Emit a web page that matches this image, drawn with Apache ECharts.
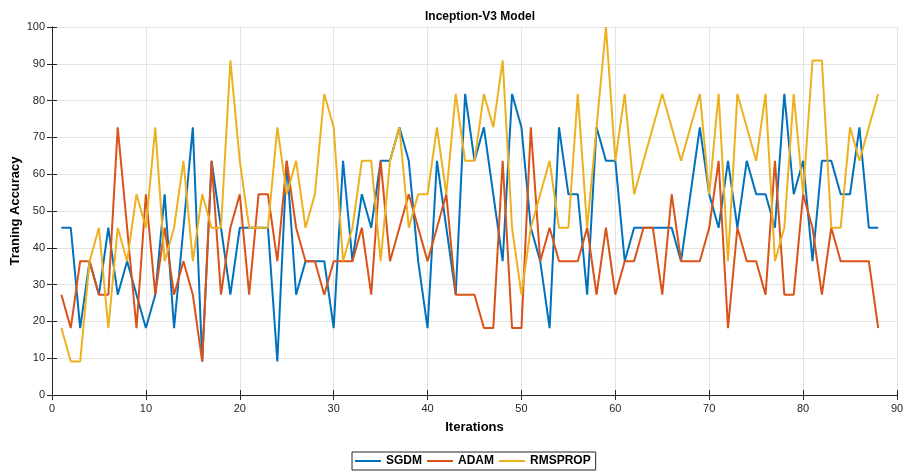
<!DOCTYPE html>
<html>
<head>
<meta charset="utf-8">
<script src="https://cdn.jsdelivr.net/npm/echarts@6/dist/echarts.min.js"></script>
<style>
  html, body { margin: 0; padding: 0; background: #ffffff; }
  #chart { width: 905px; height: 472px; }
</style>
</head>
<body>
<div id="chart"></div>
<script>
// Training accuracy (%) per iteration for the three optimizers
const iterations = [];
for (let i = 1; i <= 88; i++) iterations.push(i);

const sgdm = [
  45.45, 45.45, 18.18, 36.36, 27.27, 45.45, 27.27, 36.36, 27.27, 18.18,
  27.27, 54.55, 18.18, 45.45, 72.73, 9.09, 63.64, 45.45, 27.27, 45.45,
  45.45, 45.45, 45.45, 9.09, 63.64, 27.27, 36.36, 36.36, 36.36, 18.18,
  63.64, 36.36, 54.55, 45.45, 63.64, 63.64, 72.73, 63.64, 36.36, 18.18,
  63.64, 45.45, 27.27, 81.82, 63.64, 72.73, 54.55, 36.36, 81.82, 72.73,
  45.45, 36.36, 18.18, 72.73, 54.55, 54.55, 27.27, 72.73, 63.64, 63.64,
  36.36, 45.45, 45.45, 45.45, 45.45, 45.45, 36.36, 54.55, 72.73, 54.55,
  45.45, 63.64, 45.45, 63.64, 54.55, 54.55, 45.45, 81.82, 54.55, 63.64,
  36.36, 63.64, 63.64, 54.55, 54.55, 72.73, 45.45, 45.45
];
const adam = [
  27.27, 18.18, 36.36, 36.36, 27.27, 27.27, 72.73, 45.45, 18.18, 54.55,
  27.27, 45.45, 27.27, 36.36, 27.27, 9.09, 63.64, 27.27, 45.45, 54.55,
  27.27, 54.55, 54.55, 36.36, 63.64, 45.45, 36.36, 36.36, 27.27, 36.36,
  36.36, 36.36, 45.45, 27.27, 63.64, 36.36, 45.45, 54.55, 45.45, 36.36,
  45.45, 54.55, 27.27, 27.27, 27.27, 18.18, 18.18, 63.64, 18.18, 18.18,
  72.73, 36.36, 45.45, 36.36, 36.36, 36.36, 45.45, 27.27, 45.45, 27.27,
  36.36, 36.36, 45.45, 45.45, 27.27, 54.55, 36.36, 36.36, 36.36, 45.45,
  63.64, 18.18, 45.45, 36.36, 36.36, 27.27, 63.64, 27.27, 27.27, 54.55,
  45.45, 27.27, 45.45, 36.36, 36.36, 36.36, 36.36, 18.18
];
const rmsprop = [
  18.18, 9.09, 9.09, 36.36, 45.45, 18.18, 45.45, 36.36, 54.55, 45.45,
  72.73, 36.36, 45.45, 63.64, 36.36, 54.55, 45.45, 45.45, 90.91, 63.64,
  45.45, 45.45, 45.45, 72.73, 54.55, 63.64, 45.45, 54.55, 81.82, 72.73,
  36.36, 45.45, 63.64, 63.64, 36.36, 63.64, 72.73, 45.45, 54.55, 54.55,
  72.73, 54.55, 81.82, 63.64, 63.64, 81.82, 72.73, 90.91, 45.45, 27.27,
  45.45, 54.55, 63.64, 45.45, 45.45, 81.82, 45.45, 72.73, 100.00, 63.64,
  81.82, 54.55, 63.64, 72.73, 81.82, 72.73, 63.64, 72.73, 81.82, 54.55,
  81.82, 36.36, 81.82, 72.73, 63.64, 81.82, 36.36, 45.45, 81.82, 54.55,
  90.91, 90.91, 45.45, 45.45, 72.73, 63.64, 72.73, 81.82
];

const seriesNames = ['SGDM', 'ADAM', 'RMSPROP'];
const seriesColors = ['#0072BD', '#D95319', '#EDB120'];
const xTicks = [0, 10, 20, 30, 40, 50, 60, 70, 80, 90];
const yTicks = [0, 10, 20, 30, 40, 50, 60, 70, 80, 90, 100];

const FONT = 'Liberation Sans, Arial, Helvetica, sans-serif';
const AXIS_COLOR = '#262626';

const pairs = arr => iterations.map((it, i) => [it, arr[i]]);

const chart = echarts.init(document.getElementById('chart'), null, { renderer: 'canvas' });

const baseAxis = {
  axisLine: { show: true, lineStyle: { color: AXIS_COLOR, width: 1 } },
  axisTick: { show: true, inside: true, length: 5, lineStyle: { color: AXIS_COLOR } },
  axisLabel: { color: '#262626', fontFamily: FONT, fontSize: 11 },
  splitLine: { show: true, lineStyle: { color: '#e3e3e3', width: 1 } }
};

chart.setOption({
  animation: false,
  backgroundColor: '#ffffff',
  title: {
    text: 'Inception-V3 Model',
    left: 475, top: 6, textAlign: 'center',
    textStyle: { fontFamily: FONT, fontSize: 12, fontWeight: 'bold', color: '#000' }
  },
  grid: { left: 52, right: 8, top: 27, bottom: 77, containLabel: false, outerBoundsMode: 'none' },
  legend: {
    data: seriesNames,
    top: 452, left: 352,
    orient: 'horizontal',
    icon: 'rect',
    itemWidth: 26, itemHeight: 2,
    itemGap: 5,
    padding: [3, 5, 3, 3],
    borderColor: '#262626', borderWidth: 1,
    backgroundColor: '#fff',
    textStyle: { fontFamily: FONT, fontSize: 12, fontWeight: 'bold', color: '#000' }
  },
  xAxis: [
    Object.assign({}, baseAxis, {
      type: 'value', min: 0, max: 90, interval: 10,
      name: 'Iterations', nameLocation: 'middle', nameGap: 26,
      nameMoveOverlap: false,
      nameTextStyle: { fontFamily: FONT, fontSize: 13, fontWeight: 'bold', color: '#000' },
      axisLabel: Object.assign({}, baseAxis.axisLabel, { margin: 8,
        formatter: v => xTicks.includes(v) ? String(v) : '' })
    }),
    {
      type: 'value', min: 0, max: 90, interval: 10, position: 'top',
      axisLine: { show: true, lineStyle: { color: AXIS_COLOR } },
      axisTick: { show: true, inside: true, length: 5, lineStyle: { color: AXIS_COLOR } },
      axisLabel: { show: false }, splitLine: { show: false }
    }
  ],
  yAxis: [
    Object.assign({}, baseAxis, {
      type: 'value', min: 0, max: 100, interval: 10,
      name: 'Traning Accuracy', nameLocation: 'middle', nameGap: 30,
      nameMoveOverlap: false,
      nameTextStyle: { fontFamily: FONT, fontSize: 13, fontWeight: 'bold', color: '#000' },
      axisLabel: Object.assign({}, baseAxis.axisLabel, { margin: 7,
        formatter: v => yTicks.includes(v) ? String(v) : '' })
    }),
    {
      type: 'value', min: 0, max: 100, interval: 10, position: 'right',
      axisLine: { show: true, lineStyle: { color: AXIS_COLOR } },
      axisTick: { show: true, inside: true, length: 5, lineStyle: { color: AXIS_COLOR } },
      axisLabel: { show: false }, splitLine: { show: false }
    }
  ],
  series: [sgdm, adam, rmsprop].map((arr, idx) => ({
    name: seriesNames[idx],
    type: 'line',
    xAxisIndex: 0, yAxisIndex: 0,
    data: pairs(arr),
    showSymbol: false,
    symbol: 'none',
    lineStyle: { color: seriesColors[idx], width: 2 },
    itemStyle: { color: seriesColors[idx] },
    z: 2 + idx
  }))
});
</script>
</body>
</html>
